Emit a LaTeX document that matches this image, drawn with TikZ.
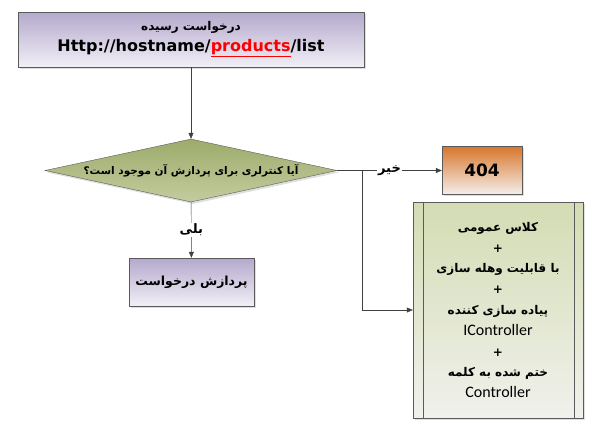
\documentclass[tikz,border=0pt]{standalone}
\usepackage{fontspec}
\setmainfont{DejaVu Sans}
\newfontfamily\fafont[Script=Arabic]{DejaVu Sans}
\newfontfamily\calfont{Carlito}
\TeXXeTstate=1
\usepackage{tikz}
\usetikzlibrary{shapes.geometric, arrows.meta, shadows}
\definecolor{linegray}{HTML}{404040}
\definecolor{boxborder}{HTML}{5A5A5A}
\definecolor{purptop}{HTML}{B4A9CD}
\definecolor{purpbot}{HTML}{F1EFF6}
\definecolor{olivetop}{HTML}{9DAB6B}
\definecolor{olivebot}{HTML}{C3CC9F}
\definecolor{orangetop}{HTML}{D8752A}
\definecolor{orangebot}{HTML}{F4EEEA}
\definecolor{greentop}{HTML}{D3DCB3}
\definecolor{greenbot}{HTML}{F0F1EC}
\definecolor{linkred}{HTML}{FF0000}
\newcommand{\fatxt}[1]{{\fafont\bfseries\beginR #1\endR}}

\begin{document}
\begin{tikzpicture}[x=1pt, y=-1pt,
    box/.style={rectangle, draw=boxborder, top color=#1top, bottom color=#1bot, drop shadow={shadow xshift=2pt, shadow yshift=-2pt, opacity=0.25}, inner sep=0pt, align=center},
    decision/.style={diamond, draw=boxborder, top color=olivetop, bottom color=olivebot, drop shadow={shadow xshift=2pt, shadow yshift=-2pt, opacity=0.25}, inner sep=0pt, aspect=4.6, minimum width=292pt, minimum height=63pt, font=\fontsize{10.5}{13}\selectfont},
    flow/.style={draw=linegray, -{Triangle[length=6pt, width=5pt]}},
    lbl/.style={fill=white, inner sep=1pt, font=\fontsize{13}{15}\selectfont}
]
\useasboundingbox (0,0) rectangle (600,432);

% Request box
\node[box=purp, minimum width=346pt, minimum height=55pt] (req) at (191,39.5)
    {{\fontsize{12}{14}\selectfont\fatxt{درخواست رسیده}}\\[5pt]
     {\fontsize{16}{18}\selectfont\bfseries Http://hostname/\textcolor{linkred}{\underline{products}}/list}};

% Decision
\node[decision] (ctrl) at (191,170.5) {\fatxt{آیا کنترلری برای پردازش آن موجود است؟}};

% Outcomes
\node[box=purp, minimum width=125pt, minimum height=48pt, font=\fontsize{12.5}{15}\selectfont] (proc) at (191.5,282) {\fatxt{پردازش درخواست}};
\node[box=orange, minimum width=80pt, minimum height=48pt, font=\fontsize{17}{19}\selectfont\bfseries] (nf) at (482,170) {404};
\node[box=green, minimum width=170pt, minimum height=216pt, font=\fontsize{12}{20.8}\selectfont] (rule) at (498,310)
    {\fatxt{کلاس عمومی}\\ \textbf{+}\\ \fatxt{با قابلیت وهله سازی}\\ \textbf{+}\\ \fatxt{پیاده سازی کننده}\\
     {\calfont\fontsize{16}{20.8}\selectfont IController}\\ \textbf{+}\\ \fatxt{ختم شده به کلمه}\\
     {\calfont\fontsize{16}{20.8}\selectfont Controller}};
\draw[boxborder] ([xshift=10pt]rule.north west) -- ([xshift=10pt]rule.south west);
\draw[boxborder] ([xshift=-9pt]rule.north east) -- ([xshift=-9pt]rule.south east);

% Connectors
\coordinate (j) at (362,170.5);
\draw[flow] (req) -- (ctrl);
\draw[flow] (ctrl) -- node[lbl] {\fatxt{بلی}} (proc);
\draw[flow] (ctrl.east) -- node[lbl, pos=0.5] {\fatxt{خیر}} (ctrl.east -| nf.west);
\draw[flow] (j) |- (rule.west);

\end{tikzpicture}
\end{document}
